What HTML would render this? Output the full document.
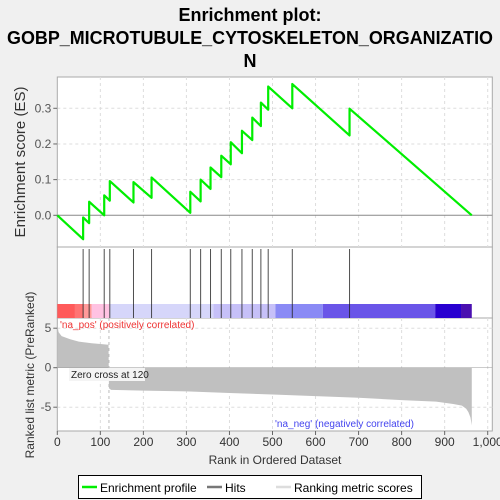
<!DOCTYPE html>
<html><head><meta charset="utf-8"><style>
body{margin:0;background:#f0f0f0;}
svg{display:block;font-family:"Liberation Sans",sans-serif;}
</style></head><body>
<svg id="c" width="500" height="500" xmlns="http://www.w3.org/2000/svg">
<rect x="0" y="0" width="500" height="500" fill="#f0f0f0"/>
<g font-weight="bold" font-size="18" text-anchor="middle" fill="#000">
<text x="250" y="21">Enrichment plot:</text>
<text x="250" y="44" textLength="486" lengthAdjust="spacingAndGlyphs">GOBP_MICROTUBULE_CYTOSKELETON_ORGANIZATIO</text>
<text x="250" y="67">N</text>
</g>
<g id="g"></g>
</svg>
<script>
const N = 963;
const hitRanks = [60,74,109,122,177,219,309,333,356,381,403,429,453,473,490,546,679];
const esBefore = [-0.067,-0.022,0.0,0.041,0.036,0.049,0.007,0.039,0.074,0.107,0.143,0.174,0.211,0.250,0.296,0.300,0.224];
const esAfter = [-0.006,0.038,0.056,0.096,0.093,0.106,0.066,0.100,0.134,0.167,0.205,0.237,0.274,0.316,0.361,0.368,0.299];
const metricRanks = [0,3,10,30,50,80,100,119,120,125,200,300,400,500,600,700,800,880,920,940,950,955,960,963];
const metricVals = [5.5,4.5,4.0,3.6,3.3,3.1,3.0,2.9,-2.6,-2.8,-2.9,-3.0,-3.2,-3.4,-3.6,-3.8,-4.1,-4.3,-4.6,-4.8,-5.2,-5.6,-6.3,-7.3];
const xTicks = [0,100,200,300,400,500,600,700,800,900,1000];
const xTickLabels = ["0","100","200","300","400","500","600","700","800","900","1,000"];
const esTicks = [0.0,0.1,0.2,0.3];
const esTickLabels = ["0.0","0.1","0.2","0.3"];
const mTicks = [5,0,-5];
const mTickLabels = ["5","0","-5"];
const colorSegs = [[0,41,"#ff5a5a"],[41,60,"#ff7373"],[60,80,"#ff9a9a"],[80,121,"#ffc2e2"],[121,363,"#d6d6fa"],[363,507,"#c6c0f8"],[507,617,"#8a8af5"],[617,878,"#6a55e8"],[878,938,"#2800d0"],[938,963,"#4a10b0"]];

const L=57.3,R=492.3;
const X = r => 57.3 + r*0.4304;
const YE = v => 215.3 - v*356.7;
const YM = v => 367.7 - v*7.9;
const g = document.getElementById('g');
const NS="http://www.w3.org/2000/svg";
function mk(t,a,p){const e=document.createElementNS(NS,t);for(const k in a)e.setAttribute(k,a[k]);(p||g).appendChild(e);return e;}

// panels
let p1=mk('rect',{x:L,y:77,width:R-L,height:170,fill:'#fff',stroke:'#aaa'});


let p2=mk('rect',{x:L,y:247,width:R-L,height:71,fill:'#fff',stroke:'#aaa'});


let p3=mk('rect',{x:L,y:318,width:R-L,height:113,fill:'#fff',stroke:'#aaa'});



// grids
xTicks.forEach((t,i)=>{
  const x=X(t); if(x>R)return;
  if(i>0){mk('line',{x1:x,y1:77,x2:x,y2:247,stroke:'#ddd','stroke-dasharray':'3,3'});
  mk('line',{x1:x,y1:318,x2:x,y2:431,stroke:'#ddd','stroke-dasharray':'3,3'});}
  mk('line',{x1:x,y1:431,x2:x,y2:435,stroke:'#666'});
  const tx=mk('text',{x:x,y:446,'font-size':12,'text-anchor':'middle',fill:'#333'});tx.textContent=xTickLabels[i];
  
  
});
esTicks.forEach((t,i)=>{
  const y=YE(t);
  mk('line',{x1:L,y1:y,x2:R,y2:y,stroke:t===0?'#888':'#ddd','stroke-dasharray':t===0?'':'3,3'});
  mk('line',{x1:L-4,y1:y,x2:L,y2:y,stroke:'#666'});
  const tx=mk('text',{x:L-6,y:y+4,'font-size':12,'text-anchor':'end',fill:'#555'});tx.textContent=esTickLabels[i];
  
  
});
mTicks.forEach((t,i)=>{
  const y=YM(t);
  if(t!==0)mk('line',{x1:L,y1:y,x2:R,y2:y,stroke:'#ddd','stroke-dasharray':'3,3'});
  mk('line',{x1:L-4,y1:y,x2:L,y2:y,stroke:'#666'});
  const tx=mk('text',{x:L-6,y:y+4,'font-size':12,'text-anchor':'end',fill:'#555'});tx.textContent=mTickLabels[i];
  
  
});

// metric area
let d='M'+X(0)+','+YM(0);
metricRanks.forEach((r,i)=>{d+=' L'+X(r)+','+YM(metricVals[i]);});
d+=' L'+X(N)+','+YM(0)+' Z';
let ar=mk('path',{d:d,fill:'#c0c0c0',stroke:'none'});


mk('line',{x1:L,y1:YM(0),x2:R,y2:YM(0),stroke:'#999','stroke-width':0.5});
mk('line',{x1:X(120),y1:318,x2:X(120),y2:431,stroke:'#bbb','stroke-dasharray':'3,3'});
let zb=mk('rect',{x:69,y:368,width:76,height:13,fill:'#f4f4f4'});
let zt=mk('text',{x:71,y:378,'font-size':10,fill:'#222'});zt.textContent='Zero cross at 120';


let pt=mk('text',{x:60,y:328,'font-size':10,fill:'#ee3333'});pt.textContent="'na_pos' (positively correlated)";


let nt=mk('text',{x:275,y:427,'font-size':10,fill:'#4444ee'});nt.textContent="'na_neg' (negatively correlated)";



// color bar
colorSegs.forEach(s=>{
  const r=mk('rect',{x:X(s[0]),y:304,width:X(s[1])-X(s[0]),height:14,fill:s[2]});
  
  
});

// hits
hitRanks.forEach(h=>{
  const l=mk('line',{x1:X(h),y1:249,x2:X(h),y2:318,stroke:'#222','stroke-width':1,'stroke-opacity':0.8});
  
  
});

// ES line
let pd='M'+X(0)+','+YE(0);
hitRanks.forEach((h,i)=>{pd+=' L'+X(h)+','+YE(esBefore[i])+' L'+X(h)+','+YE(esAfter[i]);});
pd+=' L'+X(N)+','+YE(0);
let es=mk('path',{d:pd,fill:'none',stroke:'#00ee00','stroke-width':2.2,'stroke-linejoin':'round'});



// axis titles
let yt1=mk('text',{x:0,y:0,'font-size':15,'text-anchor':'middle',fill:'#333',transform:'translate(25,162) rotate(-90)'});yt1.textContent='Enrichment score (ES)';


let yt2=mk('text',{x:0,y:0,'font-size':12,'text-anchor':'middle',fill:'#333',transform:'translate(34,375) rotate(-90)'});yt2.textContent='Ranked list metric (PreRanked)';


let xt=mk('text',{x:275,y:464,'font-size':12,'text-anchor':'middle',fill:'#333'});xt.textContent='Rank in Ordered Dataset';



// legend
let lg=mk('g',{});


mk('rect',{x:78.5,y:475.5,width:343,height:23,fill:'#fff',stroke:'#000'},lg);
mk('line',{x1:82,y1:487,x2:97,y2:487,stroke:'#00ee00','stroke-width':2.5},lg);
let l1=mk('text',{x:100,y:492,'font-size':12,fill:'#000'},lg);l1.textContent='Enrichment profile';


mk('line',{x1:207,y1:487,x2:222,y2:487,stroke:'#777','stroke-width':2.5},lg);
let l2=mk('text',{x:225,y:492,'font-size':12,fill:'#000'},lg);l2.textContent='Hits';


mk('line',{x1:276,y1:487,x2:291,y2:487,stroke:'#ddd','stroke-width':2.5},lg);
let l3=mk('text',{x:294,y:492,'font-size':12,fill:'#000'},lg);l3.textContent='Ranking metric scores';


</script>
</body></html>
